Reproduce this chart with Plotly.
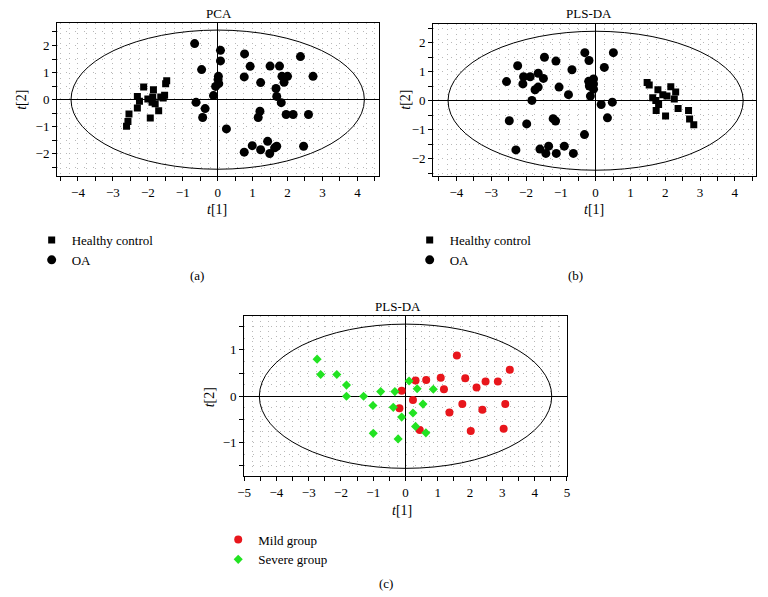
import numpy as np
import plotly.graph_objects as go

W, H = 768, 597

# ---------------- data ----------------
# (a) PCA
pca_hc_t1 = [-1.84, -2.12, -1.46, -1.49, -2.30, -2.24, -2.00, -1.86, -1.88, -1.79,
             -1.63, -1.52, -2.30, -1.69, -1.93, -2.54, -2.57, -2.61, -1.56]
pca_hc_t2 = [0.37, 0.47, 0.70, 0.59, 0.12, -0.06, 0.02, 0.10, -0.10, -0.15,
             0.10, 0.16, -0.31, -0.41, -0.68, -0.53, -0.81, -0.98, 0.06]
pca_oa_t1 = [-0.66, 0.08, 0.08, -0.46, 0.02, 0.01, 0.03, -0.06, -0.12, -0.62,
             -0.36, -0.43, 0.25, 0.77, 0.76, 0.93, 1.23, 1.50, 1.77, 1.84,
             2.00, 1.90, 1.67, 1.69, 1.82, 1.21, 1.16, 1.96, 2.16, 2.60,
             2.37, 2.73, 0.76, 0.99, 1.23, 1.43, 1.49, 1.63, 1.69, 2.46]
pca_oa_t2 = [2.07, 1.82, 1.43, 1.11, 0.86, 0.74, 0.59, 0.49, 0.15, -0.10,
             -0.33, -0.66, -1.08, 1.69, 0.84, 1.23, 0.63, 1.24, 1.24, 0.86,
             0.86, 0.64, 0.41, 0.12, -0.11, -0.43, -0.66, -0.55, -0.55, -0.55,
             1.59, 0.86, -1.94, -1.70, -1.85, -1.54, -1.99, -1.78, -1.72, -1.72]

# (b) PLS-DA, OA vs healthy
pls_hc_t1 = [1.48, 1.54, 1.79, 1.64, 1.73, 1.81, 1.74, 1.93, 2.05, 2.16,
             2.30, 2.26, 2.01, 2.37, 2.67, 2.70, 2.82]
pls_hc_t2 = [0.63, 0.54, 0.38, 0.10, 0.01, -0.13, -0.34, 0.21, 0.16, 0.48,
             0.30, 0.06, -0.53, -0.27, -0.34, -0.63, -0.83]
pls_oa_t1 = [-2.56, -2.24, -2.07, -2.09, -1.88, -1.83, -1.74, -1.65, -1.65, -1.50,
             -1.47, -1.14, -1.05, -0.78, -0.68, -0.31, -0.19, -0.20, -0.18, -0.13,
             -0.06, -0.06, -0.06, -0.15, 0.25, 0.51, 0.16, 0.48, 0.34, -2.48,
             -1.98, -1.22, -1.15, -0.32, -2.29, -1.60, -1.35, -1.43, -1.13, -0.90,
             -0.64]
pls_oa_t2 = [0.66, 1.21, 0.83, 0.58, 0.83, 0.01, 0.38, 0.47, 0.95, 0.77,
             1.50, 1.37, 0.47, 0.21, 1.07, 1.66, 1.39, 0.67, 0.51, 0.63,
             0.75, 0.58, 0.40, 0.16, 1.15, 1.66, -0.13, -0.05, -0.59, -0.69,
             -0.80, -0.62, -0.70, -1.17, -1.70, -1.67, -1.57, -1.82, -1.82, -1.57,
             -1.82]

# (c) PLS-DA, mild vs severe
mild_t1 = [1.59, 3.23, -0.12, 0.31, 0.64, 1.09, 1.19, 1.85, 2.20, 2.48,
           2.86, 0.23, -0.19, 1.76, 1.36, 2.38, 3.09, 0.44, 2.02, 3.04]
mild_t2 = [0.88, 0.57, 0.12, 0.34, 0.35, 0.40, 0.15, 0.39, 0.19, 0.32,
           0.32, -0.08, -0.26, -0.17, -0.35, -0.29, -0.17, -0.73, -0.75, -0.70]
severe_t1 = [-2.74, -2.63, -2.13, -1.83, -1.83, -1.30, -0.77, -0.33, 0.11, 0.36,
             0.86, -1.01, -0.38, 0.54, -0.12, 0.23, 0.31, 0.63, -1.00, -0.23]
severe_t2 = [0.80, 0.47, 0.47, 0.24, 0.00, 0.00, 0.10, 0.10, 0.33, 0.16,
             0.15, -0.20, -0.24, -0.17, -0.45, -0.36, -0.65, -0.79, -0.80, -0.92]

# Hotelling T2 ellipse semi-axes (t1, t2)
ellipse_a = [4.20, 2.57]
ellipse_b = [4.24, 2.40]
ellipse_c = [4.53, 1.555]

titles = ["PCA", "PLS-DA", "PLS-DA"]
panel_labels = ["(a)", "(b)", "(c)"]
legend_names_ab = ["Healthy control", "OA"]
legend_names_c = ["Mild group", "Severe group"]

RED = "#e8161c"
GREEN = "#22e322"
FONT = "Liberation Serif"
GRID = "#b8b8b8"


def px_x(p):
    return p / W


def px_y(p):
    return 1 - p / H


def fmt(v):
    iv = int(round(v))
    return ("\u2212%d" % -iv) if iv < 0 else "%d" % iv


def axis_cfg(rng, grid_step, domain, anchor, dash):
    step = 0.5
    lo, hi = rng
    vals = np.arange(np.ceil(lo / step - 1e-9) * step, hi + 1e-9, step)
    vals = [float(round(v, 3)) for v in vals]
    texts = [fmt(v) if abs(v - round(v)) < 1e-9 else "" for v in vals]
    return dict(
        domain=domain, anchor=anchor, range=list(rng),
        tickmode="array", tickvals=vals, ticktext=texts,
        ticks="outside", ticklen=4, tickwidth=1, tickcolor="black",
        tickfont=dict(family=FONT, size=13, color="black"),
        showline=True, linecolor="black", linewidth=1, mirror=True,
        showgrid=True, gridcolor=GRID, gridwidth=1, griddash=dash,
        minor=dict(tickmode="linear", tick0=0, dtick=grid_step, showgrid=True,
                   gridcolor=GRID, gridwidth=1, griddash=dash, ticks=""),
        zeroline=True, zerolinecolor="black", zerolinewidth=1,
        fixedrange=True,
    )


XD = "1px,4px"   # vertical dotted grid lines
YD = "1px,8px"   # horizontal dotted grid lines

fig = go.Figure()

# ---- panel (a)
fig.add_trace(go.Scatter(x=pca_hc_t1, y=pca_hc_t2, mode="markers", name=legend_names_ab[0],
                         marker=dict(symbol="square", size=7, color="black"),
                         xaxis="x", yaxis="y", legend="legend"))
fig.add_trace(go.Scatter(x=pca_oa_t1, y=pca_oa_t2, mode="markers", name=legend_names_ab[1],
                         marker=dict(symbol="circle", size=9, color="black"),
                         xaxis="x", yaxis="y", legend="legend"))
# ---- panel (b)
fig.add_trace(go.Scatter(x=pls_hc_t1, y=pls_hc_t2, mode="markers", name=legend_names_ab[0],
                         marker=dict(symbol="square", size=7, color="black"),
                         xaxis="x2", yaxis="y2", legend="legend2"))
fig.add_trace(go.Scatter(x=pls_oa_t1, y=pls_oa_t2, mode="markers", name=legend_names_ab[1],
                         marker=dict(symbol="circle", size=9, color="black"),
                         xaxis="x2", yaxis="y2", legend="legend2"))
# ---- panel (c)
fig.add_trace(go.Scatter(x=mild_t1, y=mild_t2, mode="markers", name=legend_names_c[0],
                         marker=dict(symbol="circle", size=8, color=RED),
                         xaxis="x3", yaxis="y3", legend="legend3"))
fig.add_trace(go.Scatter(x=severe_t1, y=severe_t2, mode="markers", name=legend_names_c[1],
                         marker=dict(symbol="diamond", size=7, color=GREEN),
                         xaxis="x3", yaxis="y3", legend="legend3"))

# ellipses
for (a, b), xr, yr in [(ellipse_a, "x", "y"), (ellipse_b, "x2", "y2"), (ellipse_c, "x3", "y3")]:
    fig.add_shape(type="circle", xref=xr, yref=yr, x0=-a, x1=a, y0=-b, y1=b,
                  line=dict(color="black", width=1), layer="between")

# axes layout
fig.update_layout(
    xaxis=axis_cfg((-4.6, 4.63), 0.25, [px_x(50.7), px_x(377.3)], "y", XD),
    yaxis=axis_cfg((-2.82, 2.82), 0.5, [px_y(176), px_y(23.3)], "x", YD),
    xaxis2=axis_cfg((-4.67, 4.62), 0.25, [px_x(431.7), px_x(759.3)], "y2", XD),
    yaxis2=axis_cfg((-2.6, 2.64), 0.5, [px_y(176), px_y(24.3)], "x2", YD),
    xaxis3=axis_cfg((-5.0, 5.0), 0.25, [px_x(240.3), px_x(567.3)], "y3", XD),
    yaxis3=axis_cfg((-1.72, 1.73), 0.25, [px_y(476), px_y(316)], "x3", YD),
)

leg_font = dict(family=FONT, size=13, color="black")
common = dict(xanchor="left", yanchor="top", font=leg_font, bgcolor="rgba(0,0,0,0)",
              borderwidth=0, itemclick=False, itemdoubleclick=False)
fig.update_layout(
    legend=dict(x=px_x(25), y=px_y(225), **common),
    legend2=dict(x=px_x(408), y=px_y(225), **common),
    legend3=dict(x=px_x(214), y=px_y(524.5), **common),
)

ann = []


def text(s, x, y, size=13, angle=0):
    ann.append(dict(text=s, x=px_x(x), y=px_y(y), xref="paper", yref="paper",
                    showarrow=False, xanchor="center", yanchor="middle", textangle=angle,
                    font=dict(family=FONT, size=size, color="black")))


text(titles[0], 215, 13)
text(titles[1], 590, 13)
text(titles[2], 396, 306)
t1 = "<i>t</i>[1]"
t2 = "<i>t</i>[2]"
text(t1, 213, 210, 14)
text(t1, 595, 210, 14)
text(t1, 400, 510, 14)
text(t2, 15, 100, 14, -90)
text(t2, 404, 100, 14, -90)
text(t2, 205, 397, 14, -90)
text(panel_labels[0], 192, 275)
text(panel_labels[1], 576, 275)
text(panel_labels[2], 384, 583)

fig.update_layout(
    annotations=ann,
    width=W, height=H, autosize=False,
    margin=dict(l=0, r=0, t=0, b=0, pad=0),
    paper_bgcolor="white", plot_bgcolor="white",
    font=dict(family=FONT, size=13, color="black"),
)

fig.write_html("out.html", config={"displayModeBar": False},
               post_script="document.body.style.margin='0';document.body.style.overflow='hidden';")
